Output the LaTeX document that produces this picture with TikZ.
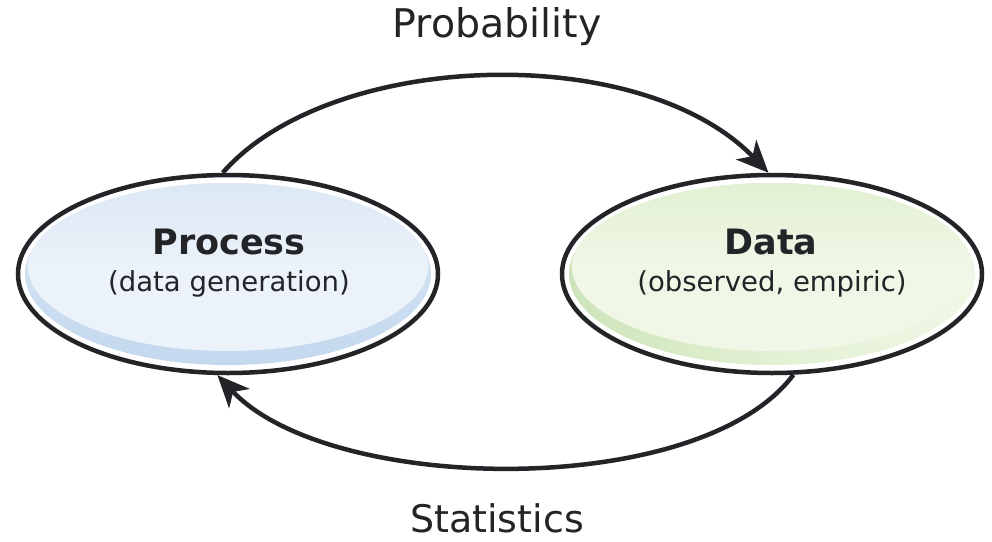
\documentclass[tikz,border=0pt]{standalone}
\usepackage{fontspec}
\setmainfont{DejaVu Sans}
\usetikzlibrary{shapes.geometric,arrows.meta}
\definecolor{ink}{HTML}{222428}
\definecolor{blueEdge}{HTML}{C3D8EE}
\definecolor{blueMid}{HTML}{DCE8F5}
\definecolor{blueLight}{HTML}{EBF2F9}
\definecolor{greenEdge}{HTML}{CDE4BA}
\definecolor{greenMid}{HTML}{E2F0D3}
\definecolor{greenLight}{HTML}{F0F7E6}
\tikzset{
  blob/.style={ellipse, draw=ink, line width=4.5pt, fill=white,
    minimum width=420pt, minimum height=198pt, inner sep=0pt},
  heading/.style={text=ink, font=\fontsize{35}{40}\selectfont\bfseries,
    inner sep=0pt, anchor=base},
  subline/.style={text=ink, font=\fontsize{27.5}{32}\selectfont,
    inner sep=0pt, anchor=base},
  caption/.style={text=ink, inner sep=0pt, anchor=base},
  flow/.style={draw=ink, line width=4.5pt,
    -{Stealth[length=32pt,width=28pt,inset=9pt]}},
}
\begin{document}
\begin{tikzpicture}[x=1pt,y=-1pt]
  \useasboundingbox[fill=white] (0,0) rectangle (992,541);

  % the two states
  \node[blob] (P) at (228,274) {};
  \node[blob] (D) at (772,274) {};

  % soft fills with a darker rim along the lower edge
  \shade[top color=blueMid, bottom color=blueEdge]
    (P.center) ellipse [x radius=203pt, y radius=91pt];
  \shade[top color=blueMid, bottom color=blueLight, middle color=blueLight]
    ([yshift=7pt]P.center) ellipse [x radius=200pt, y radius=84pt];
  \shade[left color=greenEdge, right color=greenLight, middle color=greenMid]
    (D.center) ellipse [x radius=203pt, y radius=91pt];
  \shade[top color=greenMid, bottom color=greenLight, middle color=greenLight]
    ([yshift=7pt]D.center) ellipse [x radius=200pt, y radius=84pt];

  % labels (placed by their baselines)
  \node[heading] (Pt) at (229,254) {Process};
  \node[subline] (Ps) at (229,291) {(data generation)};
  \node[heading] (Dt) at (771,254) {Data};
  \node[subline] (Ds) at (772,291) {(observed, empiric)};

  \node[caption, font=\fontsize{39.5}{45}\selectfont] (prob) at (497,37) {Probability};
  \node[caption, font=\fontsize{38}{44}\selectfont] (stat) at (497,532) {Statistics};

  % the two directions of inference
  \draw[flow] (P.93) .. controls (330,50) and (640,40) .. (D.92);
  \draw[flow] (D.-78) .. controls (700,500) and (330,495) .. (P.-96);
\end{tikzpicture}
\end{document}
